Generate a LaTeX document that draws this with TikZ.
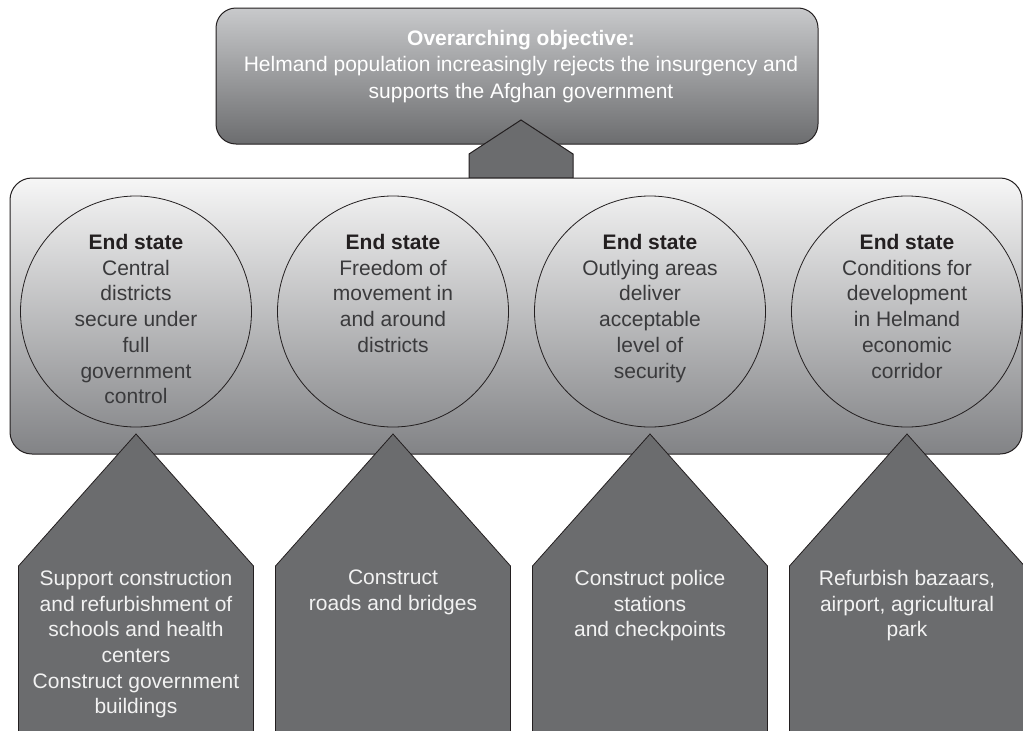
\documentclass[tikz,border=0pt]{standalone}
\usepackage{fontspec}
\setmainfont{Liberation Sans}
\usetikzlibrary{positioning}
\definecolor{linegray}{HTML}{231F20}
\definecolor{arrowgray}{HTML}{6B6C6E}
\definecolor{textgray}{HTML}{3A3A3C}
\definecolor{objtop}{HTML}{C8C9CB}
\definecolor{objbot}{HTML}{6C6D6F}
\definecolor{boxtop}{HTML}{F6F6F6}
\definecolor{boxbot}{HTML}{828386}
\tikzset{
  objbox/.style={draw=linegray, line width=1pt, rounded corners=20pt, top color=objtop, bottom color=objbot},
  statebox/.style={draw=linegray, line width=1pt, rounded corners=22pt, top color=boxtop, bottom color=boxbot},
  endcircle/.style={circle, draw=linegray, line width=0.8pt, minimum size=231pt},
  endtext/.style={text=textgray},
  actshape/.style={draw=linegray, line width=0.8pt, fill=arrowgray},
  acttext/.style={text=white!95!black, anchor=north}
}
\begin{document}
\begin{tikzpicture}[x=1pt, y=1pt, every node/.style={inner sep=0pt, align=center, font=\fontsize{21}{25.7}\selectfont}]
\useasboundingbox (0,0) rectangle (1023,-731);
\clip (0,0) rectangle (1023,-731);
\node [objbox, minimum width=602pt, minimum height=136pt] (obj) at (517,-76) {};
\node [white, anchor=north, font=\fontsize{21}{26.5}\selectfont] (objtext) at (521,-30) {\textbf{Overarching objective:}\\Helmand population increasingly rejects the insurgency and\\supports the Afghan government};
\draw [actshape, line width=1pt] (521,-120) -- (573,-154) -- (573,-178) -- (469,-178) -- (469,-154) -- cycle;
\node [statebox, minimum width=1012pt, minimum height=276pt] (states) at (516,-316) {};
\node [endcircle] (es1) at (136,-311.5) {};
\node [endcircle] (es2) at (393,-311.5) {};
\node [endcircle] (es3) at (650,-311.5) {};
\node [endcircle] (es4) at (907,-311.5) {};
\node [endtext, below=38.5pt of es1.north] (es1text) {\textcolor{linegray}{\textbf{End state}}\\Central\\districts\\secure under\\full\\government\\control};
\node [endtext, below=38.5pt of es2.north] (es2text) {\textcolor{linegray}{\textbf{End state}}\\Freedom of\\movement in\\and around\\districts};
\node [endtext, below=38.5pt of es3.north] (es3text) {\textcolor{linegray}{\textbf{End state}}\\Outlying areas\\deliver\\acceptable\\level of\\security};
\node [endtext, below=38.5pt of es4.north] (es4text) {\textcolor{linegray}{\textbf{End state}}\\Conditions for\\development\\in Helmand\\economic\\corridor};
\draw [actshape] (136,-434) -- (253.5,-566) -- (253.5,-745) -- (18.5,-745) -- (18.5,-566) -- cycle;
\draw [actshape] (393,-434) -- (510.5,-566) -- (510.5,-745) -- (275.5,-745) -- (275.5,-566) -- cycle;
\draw [actshape] (650,-434) -- (767.5,-566) -- (767.5,-745) -- (532.5,-745) -- (532.5,-566) -- cycle;
\draw [actshape] (907,-434) -- (1024.5,-566) -- (1024.5,-745) -- (789.5,-745) -- (789.5,-566) -- cycle;
\node [acttext] (act1) at (136,-570) {Support construction\\and refurbishment of\\schools and health\\centers\\Construct government\\buildings};
\node [acttext] (act2) at (393,-570) {Construct\\roads and bridges};
\node [acttext] (act3) at (650,-570) {Construct police\\stations\\and checkpoints};
\node [acttext] (act4) at (907,-570) {Refurbish bazaars,\\airport, agricultural\\park};
\end{tikzpicture}
\end{document}
